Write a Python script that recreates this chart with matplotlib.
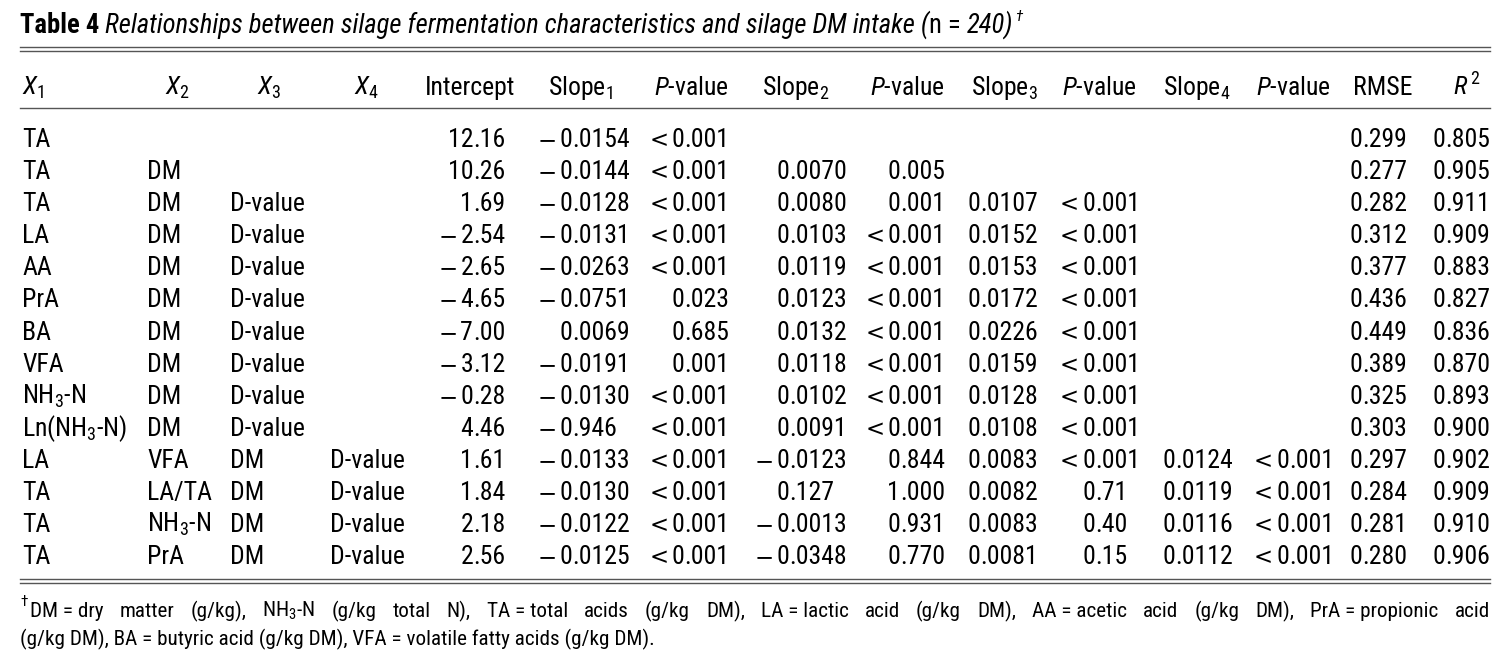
import matplotlib
matplotlib.use("Agg")
import matplotlib.pyplot as plt
from matplotlib.lines import Line2D

FONT = 'Roboto Condensed'
plt.rcParams['font.family'] = [FONT, 'DejaVu Sans']
plt.rcParams['mathtext.fontset'] = 'custom'
plt.rcParams['mathtext.rm'] = FONT
plt.rcParams['mathtext.it'] = FONT + ':italic'
plt.rcParams['mathtext.bf'] = FONT + ':bold'

# ---------------- data ----------------
x1 = ["TA", "TA", "TA", "LA", "AA", "PrA", "BA", "VFA", "NH$_3$-N", "Ln(NH$_3$-N)", "LA", "TA", "TA", "TA"]
x2 = ["", "DM", "DM", "DM", "DM", "DM", "DM", "DM", "DM", "DM", "VFA", "LA/TA", "NH$_3$-N", "PrA"]
x3 = ["", "", "D-value", "D-value", "D-value", "D-value", "D-value", "D-value", "D-value", "D-value", "DM", "DM", "DM", "DM"]
x4 = [""] * 10 + ["D-value", "D-value", "D-value", "D-value"]
intercept = ["12.16", "10.26", "1.69", "−2.54", "−2.65", "−4.65", "−7.00", "−3.12", "−0.28", "4.46", "1.61", "1.84", "2.18", "2.56"]
slope1 = ["−0.0154", "−0.0144", "−0.0128", "−0.0131", "−0.0263", "−0.0751", "0.0069", "−0.0191", "−0.0130", "−0.946", "−0.0133", "−0.0130", "−0.0122", "−0.0125"]
p1 = ["<0.001", "<0.001", "<0.001", "<0.001", "<0.001", "0.023", "0.685", "0.001", "<0.001", "<0.001", "<0.001", "<0.001", "<0.001", "<0.001"]
slope2 = ["", "0.0070", "0.0080", "0.0103", "0.0119", "0.0123", "0.0132", "0.0118", "0.0102", "0.0091", "−0.0123", "0.127", "−0.0013", "−0.0348"]
p2 = ["", "0.005", "0.001", "<0.001", "<0.001", "<0.001", "<0.001", "<0.001", "<0.001", "<0.001", "0.844", "1.000", "0.931", "0.770"]
slope3 = ["", "", "0.0107", "0.0152", "0.0153", "0.0172", "0.0226", "0.0159", "0.0128", "0.0108", "0.0083", "0.0082", "0.0083", "0.0081"]
p3 = ["", "", "<0.001", "<0.001", "<0.001", "<0.001", "<0.001", "<0.001", "<0.001", "<0.001", "<0.001", "0.71", "0.40", "0.15"]
slope4 = [""] * 10 + ["0.0124", "0.0119", "0.0116", "0.0112"]
p4 = [""] * 10 + ["<0.001", "<0.001", "<0.001", "<0.001"]
rmse = ["0.299", "0.277", "0.282", "0.312", "0.377", "0.436", "0.449", "0.389", "0.325", "0.303", "0.297", "0.284", "0.281", "0.280"]
r2 = ["0.805", "0.905", "0.911", "0.909", "0.883", "0.827", "0.836", "0.870", "0.893", "0.900", "0.902", "0.909", "0.910", "0.906"]

headers = ["$X_1$", "$X_2$", "$X_3$", "$X_4$", "Intercept", "Slope$_1$", "$P$-value", "Slope$_2$", "$P$-value",
           "Slope$_3$", "$P$-value", "Slope$_4$", "$P$-value", "RMSE", "$R^{\\,2}$"]

title_parts = [("Table 4", 'bold', 'normal'),
               (" Relationships between silage fermentation characteristics and silage DM intake (", 'normal', 'italic'),
               ("n = ", 'normal', 'normal'), ("240)", 'normal', 'italic')]

foot1 = ["DM = dry", "matter", "(g/kg),", "NH$_3$-N", "(g/kg", "total", "N),", "TA = total", "acids", "(g/kg", "DM),",
         "LA = lactic", "acid", "(g/kg", "DM),", "AA = acetic", "acid", "(g/kg", "DM),", "PrA = propionic", "acid"]
foot2 = "(g/kg DM), BA = butyric acid (g/kg DM), VFA = volatile fatty acids (g/kg DM)."

# ---------------- layout ----------------
W, H = 1501, 657
fig = plt.figure(figsize=(W / 100, H / 100), dpi=100)
fig.patch.set_facecolor('white')
R = fig.canvas.get_renderer()

def fx(x):
    return x / W

def fy(y):
    return 1 - y / H

FS = 18.5   # body
FT = 19.2   # title
FF = 15.2   # footnote
FSYM = 16.5 # minus / less-than signs

def put(x, y, s, **kw):
    kw.setdefault('fontsize', FS)
    return fig.text(fx(x), fy(y), s, va='baseline', **kw)

def wid(t):
    return t.get_window_extent(R).width

# title
x = 20
ta = put(-500, 0, "a a", fontsize=FT, fontstyle='italic')
tb = put(-500, 0, "aa", fontsize=FT, fontstyle='italic')
sp = wid(ta) - wid(tb)
ta.remove()
tb.remove()
for s, wgt, sty in title_parts:
    if s.startswith(" "):
        x += sp
    t = put(x, 33, s.strip(), fontsize=FT, fontweight=wgt, fontstyle=sty)
    x += wid(t)
    if s.endswith(" "):
        x += sp
put(x + 2, 21, "†", fontsize=11, fontstyle='italic')

# rules
def hline(y):
    fig.add_artist(Line2D([fx(20), fx(1490)], [fy(y), fy(y)], color='#555555', lw=1.0))

for yy in (47, 51, 108, 579, 583):
    hline(yy)

# header
head_cx = [35, 177, 269, 366, 470, 580, 691, 796, 907, 1004, 1099, 1197, 1293, 1383, 1467]
for h, cx in zip(headers, head_cx):
    if cx == 35:
        put(22, 95, h, ha='left')
    else:
        put(cx, 95, h, ha='center')

# body
text_cols = [(x1, 22), (x2, 147), (x3, 230), (x4, 330)]
num_cols = [(intercept, 473), (slope1, 572), (p1, 684), (slope2, 789), (p2, 900), (slope3, 980),
            (p3, 1095), (slope4, 1175), (p4, 1289), (rmse, 1362), (r2, 1445)]

def put_num(xd, yb, s):
    ip, fp = s.split('.')
    sym = ''
    if ip[0] in "−<":
        sym, ip = ip[0], ip[1:]
    t = put(xd, yb, ip, ha='right')
    put(xd, yb, '.' + fp, ha='left')
    if sym:
        put(xd - wid(t) - 3, yb, sym, ha='right', fontsize=FSYM, family='DejaVu Sans')

for i in range(len(x1)):
    yb = 147 + 32.1 * i
    for col, xl in text_cols:
        if col[i]:
            put(xl, yb, col[i], ha='left')
    for col, xd in num_cols:
        if col[i]:
            put_num(xd, yb, col[i])

# footnote line 1 (justified)
put(20, 606, "†", fontsize=11)
x0 = 30
ts = [put(0, 617, w, fontsize=FF) for w in foot1]
ws = [wid(t) for t in ts]
gap = (1490 - x0 - sum(ws)) / (len(ws) - 1)
xx = x0
for t, w in zip(ts, ws):
    t.set_x(fx(xx))
    xx += w + gap
put(20, 645, foot2, fontsize=FF)

fig.savefig("out.png", dpi=100, facecolor='white')
